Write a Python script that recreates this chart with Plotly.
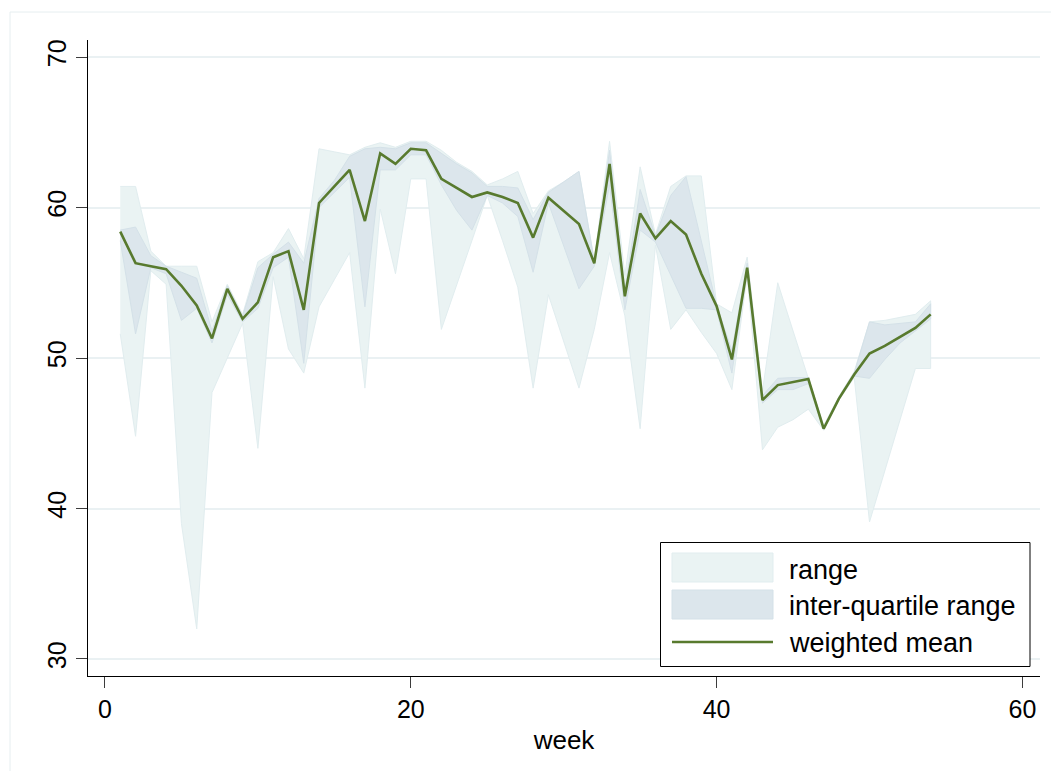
import plotly.graph_objects as go

weeks = list(range(1, 55))
weighted_mean = [58.4, 56.3, 56.1, 55.9, 54.8, 53.5, 51.3, 54.6, 52.6, 53.7,
                 56.7, 57.1, 53.2, 60.3, 61.4, 62.5, 59.1, 63.6, 62.9, 63.9,
                 63.8, 61.9, 61.3, 60.7, 61.0, 60.7, 60.3, 58.0, 60.65, 59.8,
                 58.9, 56.3, 62.9, 54.1, 59.6, 57.95, 59.1, 58.2, 55.6, 53.45,
                 49.9, 56.0, 47.2, 48.2, 48.4, 48.6, 45.3, 47.3, 48.9, 50.3,
                 50.8, 51.4, 52.0, 52.9]
range_low = [51.6, 44.8, 55.8, 54.9, 39.0, 32.0, 47.7, 50.0, 52.3, 44.0,
             55.4, 50.6, 49.0, 53.4, 55.2, 57.0, 48.0, 59.9, 55.6, 61.9,
             61.9, 51.9, 54.8, 57.8, 60.8, 57.8, 54.7, 48.0, 54.2, 51.1,
             48.0, 51.9, 57.0, 52.8, 45.3, 57.5, 51.9, 53.2, 51.7, 50.3,
             47.9, 55.5, 43.9, 45.4, 45.9, 46.6, 45.2, 47.2, 48.7, 39.1,
             42.5, 45.9, 49.3, 49.3]
range_high = [61.4, 61.4, 57.1, 56.1, 56.1, 56.1, 52.4, 54.9, 52.9, 56.4,
              57.0, 58.6, 56.6, 63.9, 63.7, 63.5, 64.0, 64.3, 64.0, 64.4,
              64.4, 63.8, 63.0, 62.4, 61.5, 61.9, 62.4, 59.6, 61.1, 61.7,
              62.4, 56.5, 64.4, 55.5, 62.7, 58.2, 61.4, 62.1, 62.1, 53.6,
              53.0, 56.7, 47.8, 55.0, 51.8, 48.7, 45.5, 47.45, 49.1, 52.4,
              52.5, 52.7, 52.9, 53.8]
iqr_low = [57.8, 51.6, 56.0, 55.6, 52.5, 53.3, 51.0, 54.2, 52.4, 53.3,
           56.0, 56.7, 49.65, 60.0, 61.0, 62.0, 53.4, 62.5, 62.5, 63.5,
           63.5, 61.5, 59.8, 58.5, 60.8, 60.3, 59.4, 55.7, 60.3, 57.4,
           54.6, 56.1, 61.5, 53.2, 58.5, 57.7, 55.5, 53.3, 53.3, 53.2,
           49.0, 55.8, 47.0, 47.9, 47.9, 48.3, 45.25, 47.25, 48.8, 48.65,
           49.9, 51.0, 51.8, 52.6]
iqr_high = [58.5, 58.7, 56.8, 56.1, 55.7, 55.3, 51.8, 54.8, 52.8, 56.0,
            56.9, 57.7, 56.3, 60.6, 61.8, 63.4, 63.9, 64.0, 63.9, 64.3,
            64.3, 63.6, 62.9, 62.3, 61.4, 61.4, 61.3, 59.2, 61.0, 61.7,
            62.4, 56.4, 63.8, 54.5, 61.2, 58.1, 60.8, 62.05, 57.8, 53.5,
            50.5, 56.3, 47.5, 48.65, 48.7, 48.7, 45.45, 47.4, 49.0, 52.4,
            52.2, 52.3, 52.4, 53.6]

x_ticks = [0, 20, 40, 60]
y_ticks = [30, 40, 50, 60, 70]
legend_labels = ["range", "inter-quartile range", "weighted mean"]

RANGE_FILL = "rgb(234,243,243)"
RANGE_EDGE = "rgb(225,237,239)"
IQR_FILL = "rgb(220,230,236)"
IQR_EDGE = "rgb(212,225,232)"
MEAN_COLOR = "rgb(88,122,46)"
FONT = "Liberation Sans, Arial, sans-serif"

fig = go.Figure()
fig.add_trace(go.Scatter(
    x=weeks + weeks[::-1], y=range_high + range_low[::-1],
    fill="toself", fillcolor=RANGE_FILL, mode="lines",
    line=dict(color=RANGE_EDGE, width=1), name=legend_labels[0],
    hoverinfo="skip"))
fig.add_trace(go.Scatter(
    x=weeks + weeks[::-1], y=iqr_high + iqr_low[::-1],
    fill="toself", fillcolor=IQR_FILL, mode="lines",
    line=dict(color=IQR_EDGE, width=1), name=legend_labels[1],
    hoverinfo="skip"))
fig.add_trace(go.Scatter(
    x=weeks, y=weighted_mean, mode="lines",
    line=dict(color=MEAN_COLOR, width=2.6), name=legend_labels[2]))

# plot area in pixels: x 88..1040, y 40..676
W, H = 1051, 771
L, R, T, B = 88, W - 1040, 40, H - 676
pw, ph = W - L - R, H - T - B


def px(xp):
    return (xp - L) / pw


def py(yp):
    return (H - B - yp) / ph


shapes = []
annotations = []
# outer faint frame (left & top)
shapes.append(dict(type="line", xref="paper", yref="paper",
                   x0=px(10), x1=px(10), y0=py(12), y1=py(800),
                   line=dict(color="rgb(230,238,240)", width=1)))
shapes.append(dict(type="line", xref="paper", yref="paper",
                   x0=px(10), x1=px(1100), y0=py(12), y1=py(12),
                   line=dict(color="rgb(230,238,240)", width=1)))
# legend box
shapes.append(dict(type="rect", xref="paper", yref="paper",
                   x0=px(660.5), x1=px(1030), y0=py(542.5), y1=py(666.5),
                   line=dict(color="black", width=1), fillcolor="white",
                   layer="above"))
shapes.append(dict(type="rect", xref="paper", yref="paper",
                   x0=px(672), x1=px(773), y0=py(553), y1=py(582),
                   line=dict(color=RANGE_EDGE, width=1), fillcolor=RANGE_FILL,
                   layer="above"))
shapes.append(dict(type="rect", xref="paper", yref="paper",
                   x0=px(672), x1=px(773), y0=py(590), y1=py(619),
                   line=dict(color=IQR_EDGE, width=1), fillcolor=IQR_FILL,
                   layer="above"))
shapes.append(dict(type="line", xref="paper", yref="paper",
                   x0=px(672), x1=px(773), y0=py(642), y1=py(642),
                   line=dict(color=MEAN_COLOR, width=2.6), layer="above"))
for lbl, yc in zip(legend_labels, [569.5, 606, 643]):
    annotations.append(dict(xref="paper", yref="paper", x=px(787), y=py(yc),
                            text=lbl, showarrow=False, xanchor="left",
                            yanchor="middle",
                            font=dict(family=FONT, size=27, color="black")))

fig.update_layout(
    width=W, height=H,
    margin=dict(l=L, r=R, t=T, b=B),
    paper_bgcolor="white", plot_bgcolor="white",
    showlegend=False,
    shapes=shapes, annotations=annotations,
    font=dict(family=FONT, color="black"),
    xaxis=dict(range=[-1.11, 61.15], tickvals=x_ticks,
               ticktext=[str(v) for v in x_ticks],
               showgrid=False, zeroline=False, showline=True,
               linecolor="black", linewidth=1, ticks="outside",
               ticklen=11, tickcolor="rgb(60,60,60)", tickwidth=1,
               tickfont=dict(size=25, family=FONT, color="black"),
               title=dict(text="week", font=dict(size=26, family=FONT,
                                                 color="black"), standoff=8)),
    yaxis=dict(range=[28.87, 71.13], tickvals=y_ticks,
               ticktext=[str(v) for v in y_ticks],
               showgrid=True, gridcolor="rgb(234,241,243)", gridwidth=2,
               zeroline=False, showline=True, linecolor="black", linewidth=1,
               ticks="outside", ticklen=11, tickcolor="rgb(60,60,60)",
               tickwidth=1, tickangle=-90,
               tickfont=dict(size=25, family=FONT, color="black")),
)

fig.write_html("out.html", config={"displayModeBar": False},
               post_script="document.body.style.margin='0';")
